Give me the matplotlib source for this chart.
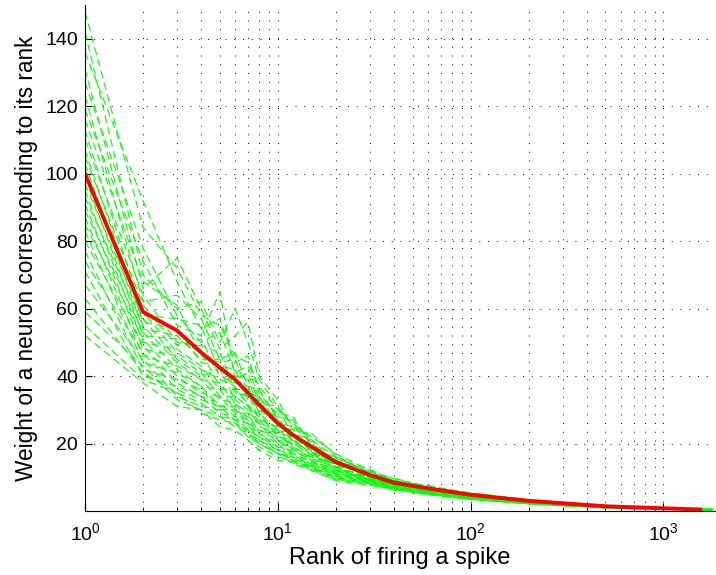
import numpy as np
import matplotlib
matplotlib.use('Agg')
import matplotlib.pyplot as plt
from matplotlib.ticker import LogLocator

plt.rcParams['font.family'] = ['Liberation Sans', 'DejaVu Sans']
plt.rcParams['mathtext.fontset'] = 'custom'
plt.rcParams['mathtext.rm'] = 'Liberation Sans'

# media de los pesos (linea roja)
red_ranks = [1, 2, 3, 4, 5, 6, 7, 8, 10, 12, 15, 20, 30, 40, 60, 100, 200, 500, 1000, 1550]
red_weights = [100, 59, 53.5, 47, 42.5, 39, 35, 31.5, 26, 22.5, 19, 14.5, 10.7, 8.4, 6.7,
               4.8, 3.0, 1.4, 0.8, 0.45]

# ensayos individuales (lineas verdes)
trial_ranks = [1, 2, 3, 4, 5, 6, 7, 8, 10, 12, 15, 20, 30, 40, 60, 100, 200, 500, 1000, 1800]
trials = [
    [148, 84, 72, 58, 55, 46, 44, 37, 30, 26, 21, 16, 11.5, 9.0, 7.0, 5.2, 3.3, 1.6, 0.9, 0.5],
    [142, 70, 60, 62, 50, 60, 50, 39, 31, 25, 22, 17, 12.0, 9.5, 7.4, 5.4, 3.4, 1.6, 0.9, 0.5],
    [136, 92, 68, 54, 57, 44, 46, 35, 28, 27, 20, 15, 11.8, 8.8, 7.2, 5.0, 3.2, 1.5, 0.9, 0.5],
    [131, 66, 75, 60, 48, 52, 56, 40, 33, 24, 23, 16.5, 11.0, 9.8, 6.9, 5.3, 3.1, 1.7, 0.8, 0.5],
    [127, 78, 58, 50, 53, 41, 43, 33, 29, 28, 19, 15.5, 12.4, 8.6, 7.6, 4.9, 3.3, 1.5, 0.9, 0.4],
    [123, 62, 64, 57, 45, 47, 37, 36, 27, 23, 21, 14.5, 10.8, 9.2, 6.8, 5.1, 3.0, 1.6, 0.8, 0.5],
    [119, 74, 55, 52, 65, 39, 41, 32, 31, 22, 18, 16, 11.2, 8.4, 7.1, 4.8, 3.2, 1.4, 0.8, 0.4],
    [116, 68, 61, 46, 44, 45, 35, 34, 26, 25, 20, 14, 10.5, 9.0, 6.6, 5.0, 2.9, 1.5, 0.9, 0.5],
    [113, 58, 57, 55, 41, 40, 39, 30, 28, 21, 19, 15, 11.0, 8.2, 6.9, 4.7, 3.1, 1.4, 0.8, 0.4],
    [110, 64, 50, 49, 47, 36, 36, 33, 25, 24, 17, 14.8, 10.2, 8.7, 6.5, 4.9, 3.0, 1.5, 0.8, 0.5],
    [107, 56, 54, 44, 43, 42, 33, 31, 27, 20, 18.5, 13.5, 10.9, 8.0, 6.7, 4.6, 2.9, 1.4, 0.8, 0.4],
    [105, 61, 49, 51, 40, 38, 37, 29, 24, 23, 17.5, 14.2, 10.0, 8.5, 6.4, 4.8, 3.1, 1.4, 0.8, 0.4],
    [103, 54, 52, 45, 45, 35, 34, 30, 26, 21, 16.5, 13.8, 10.6, 7.9, 6.6, 4.6, 2.8, 1.3, 0.7, 0.4],
    [101, 59, 47, 42, 39, 37, 31, 28, 23, 22, 18, 13.2, 9.8, 8.3, 6.3, 4.7, 3.0, 1.4, 0.8, 0.4],
    [99, 52, 51, 47, 37, 34, 35, 27, 25, 19, 16, 14, 10.4, 7.8, 6.5, 4.5, 2.8, 1.3, 0.7, 0.4],
    [97, 57, 45, 40, 42, 33, 30, 29, 22, 21, 17, 12.8, 9.6, 8.1, 6.2, 4.6, 2.9, 1.4, 0.8, 0.4],
    [95, 50, 48, 43, 36, 36, 32, 26, 24, 18.5, 15.5, 13, 10.1, 7.6, 6.4, 4.4, 2.7, 1.3, 0.7, 0.4],
    [93, 55, 44, 39, 38, 32, 29, 27, 21, 20, 16.5, 12.5, 9.4, 7.9, 6.1, 4.5, 2.8, 1.3, 0.7, 0.4],
    [91, 48, 46, 41, 34, 34, 31, 25, 23, 18, 15, 12.2, 9.9, 7.4, 6.2, 4.3, 2.7, 1.2, 0.7, 0.4],
    [89, 53, 42, 37, 36, 30, 28, 26, 20, 19, 15.8, 12, 9.2, 7.7, 6.0, 4.4, 2.7, 1.3, 0.7, 0.4],
    [87, 46, 43, 39, 33, 32, 27, 24, 22, 17, 14.5, 11.8, 9.6, 7.2, 6.0, 4.2, 2.6, 1.2, 0.7, 0.3],
    [85, 51, 40, 35, 34, 29, 29, 23, 19, 18, 15, 11.5, 9.0, 7.5, 5.8, 4.3, 2.6, 1.2, 0.7, 0.4],
    [83, 44, 41, 37, 31, 31, 26, 24, 21, 16.5, 14, 11.2, 9.3, 7.0, 5.8, 4.1, 2.5, 1.2, 0.6, 0.3],
    [80, 49, 38, 34, 32, 28, 27, 22, 18, 17, 14.5, 11, 8.8, 7.3, 5.6, 4.2, 2.5, 1.1, 0.6, 0.3],
    [77, 42, 39, 36, 30, 30, 25, 23, 20, 16, 13.5, 10.8, 9.0, 6.8, 5.6, 4.0, 2.4, 1.1, 0.6, 0.3],
    [74, 47, 36, 33, 31, 27, 26, 21, 17, 16, 13.8, 10.5, 8.6, 7.1, 5.4, 4.0, 2.4, 1.1, 0.6, 0.3],
    [71, 40, 37, 34, 29, 28, 24, 22, 19, 15, 13, 10.2, 8.7, 6.6, 5.4, 3.9, 2.3, 1.0, 0.6, 0.3],
    [67, 45, 34, 31, 30, 26, 24, 20, 17, 15.5, 13.2, 10, 8.3, 6.9, 5.2, 3.8, 2.3, 1.0, 0.5, 0.3],
    [63, 41, 35, 32, 28, 27, 23, 21, 18, 14.5, 12.5, 9.8, 8.4, 6.4, 5.2, 3.7, 2.2, 1.0, 0.5, 0.3],
    [59, 43, 33, 30, 28, 25, 23, 19, 16, 15, 12.8, 9.5, 8.0, 6.7, 5.0, 3.6, 2.2, 0.9, 0.5, 0.3],
    [55, 39, 35, 29, 27, 26, 22, 20, 17, 14, 12, 9.2, 8.1, 6.2, 5.0, 3.5, 2.1, 0.9, 0.5, 0.2],
    [52, 38, 31, 30, 25, 24, 21, 18, 15, 14.5, 12.2, 9.0, 7.6, 6.4, 4.8, 3.4, 2.1, 0.9, 0.5, 0.2],
]

fig = plt.figure(figsize=(7.16, 5.75), dpi=100)
ax = fig.add_axes([85/716, 64/575, 630/716, 506/575])

for w in trials:
    ax.plot(trial_ranks, w, color=(0, 1, 0), lw=0.8, linestyle=(0, (7, 4)))
ax.plot(red_ranks, red_weights, color='r', lw=2.8)

ax.set_xscale('log')
ax.set_xlim(1, 1850)
ax.set_ylim(0, 150)
ax.set_yticks([20, 40, 60, 80, 100, 120, 140])
ax.xaxis.set_minor_locator(LogLocator(base=10, subs=np.arange(2, 10)))

gstyle = dict(color='k', linestyle=(0, (1, 8)), lw=0.7)
ax.grid(True, which='major', axis='both', **gstyle)
ax.grid(True, which='minor', axis='x', **gstyle)

ax.spines['top'].set_visible(False)
ax.spines['right'].set_visible(False)
ax.tick_params(which='both', direction='in', labelsize=14)
ax.tick_params(axis='x', which='major', length=6, pad=8)
ax.tick_params(axis='y', which='major', length=5, pad=5)
ax.tick_params(which='minor', length=3)

ax.set_xlabel('Rank of firing a spike', fontsize=17, labelpad=2)
ax.set_ylabel('Weight of a neuron corresponding to its rank', fontsize=16.3, labelpad=5)

fig.savefig('out.png', dpi=100)
